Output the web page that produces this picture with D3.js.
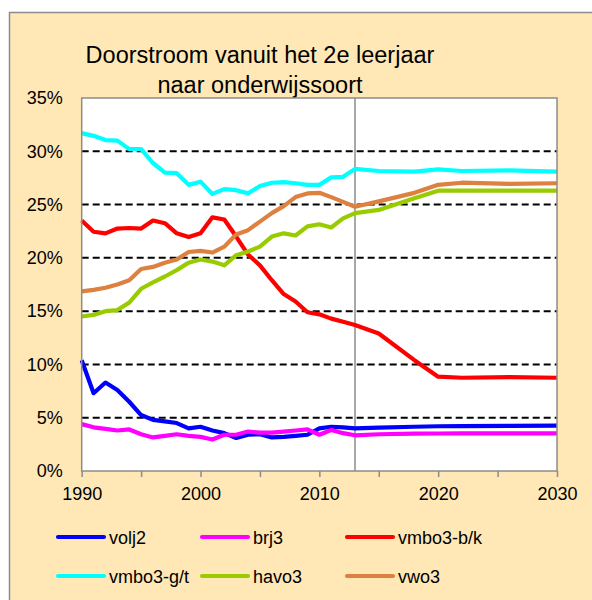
<!DOCTYPE html>
<html>
<head>
<meta charset="utf-8">
<script src="https://cdn.jsdelivr.net/npm/d3@7"></script>
<style>
  body { margin: 0; background: #fff; }
  text { font-family: "Liberation Sans", Arial, sans-serif; fill: #000; }
</style>
</head>
<body>
<svg width="592" height="600"></svg>
<script>
// jaren: 1990-2013 gerealiseerd, daarna prognose
var years = [1990, 1991, 1992, 1993, 1994, 1995, 1996, 1997, 1998, 1999, 2000, 2001,
    2002, 2003, 2004, 2005, 2006, 2007, 2008, 2009, 2010, 2011, 2012, 2013,
    2015, 2018, 2020, 2022, 2026, 2030];

var volj2 = [10.4, 7.3, 8.3, 7.6, 6.5, 5.25, 4.8, 4.65, 4.5, 4.0, 4.15, 3.8,
    3.55, 3.1, 3.4, 3.45, 3.15, 3.2, 3.3, 3.4, 4.0, 4.15, 4.1, 4.0,
    4.07, 4.15, 4.2, 4.22, 4.23, 4.25];
var brj3 = [4.4, 4.1, 3.95, 3.8, 3.9, 3.45, 3.15, 3.3, 3.45, 3.3, 3.2, 2.95,
    3.4, 3.4, 3.7, 3.6, 3.6, 3.7, 3.8, 3.9, 3.4, 3.85, 3.55, 3.35,
    3.45, 3.5, 3.52, 3.53, 3.53, 3.53];
var vmbo3bk = [23.5, 22.45, 22.3, 22.75, 22.8, 22.75, 23.5, 23.25, 22.3, 21.95, 22.3, 23.8,
    23.6, 22.0, 20.3, 19.3, 17.9, 16.6, 15.9, 14.9, 14.7, 14.3, 14.0, 13.7,
    12.9, 10.4, 8.85, 8.75, 8.8, 8.75];
var vmbo3gt = [31.7, 31.45, 31.05, 31.0, 30.2, 30.2, 28.9, 28.0, 27.95, 26.85, 27.15, 26.0,
    26.45, 26.35, 26.05, 26.75, 27.05, 27.1, 27.0, 26.85, 26.85, 27.55, 27.6, 28.35,
    28.15, 28.1, 28.3, 28.15, 28.2, 28.1];
var havo3 = [14.5, 14.65, 15.0, 15.1, 15.8, 17.1, 17.7, 18.25, 18.85, 19.55, 19.85, 19.65,
    19.3, 20.25, 20.6, 21.05, 22.0, 22.3, 22.1, 22.95, 23.15, 22.85, 23.7, 24.2,
    24.5, 25.6, 26.3, 26.3, 26.3, 26.3];
var vwo3 = [16.85, 17.0, 17.2, 17.5, 17.9, 18.95, 19.15, 19.55, 19.85, 20.55, 20.65, 20.5,
    21.05, 22.2, 22.6, 23.4, 24.2, 24.85, 25.7, 26.05, 26.1, 25.7, 25.25, 24.8,
    25.3, 26.1, 26.85, 27.05, 26.95, 27.0];

var seriesNames = ['volj2', 'brj3', 'vmbo3-b/k', 'vmbo3-g/t', 'havo3', 'vwo3'];
var seriesValues = [volj2, brj3, vmbo3bk, vmbo3gt, havo3, vwo3];
var seriesColors = ['#0000ff', '#ff00ff', '#ff0000', '#00ffff', '#99cc00', '#dd8040'];

var yTicks = [0, 5, 10, 15, 20, 25, 30, 35];
var xLabels = [1990, 2000, 2010, 2020, 2030];
var xMinor = [1990, 1995, 2000, 2005, 2010, 2015, 2020, 2025, 2030];
var splitYear = 2013;
var titleLines = ['Doorstroom vanuit het 2e leerjaar', 'naar onderwijssoort'];

(function () {
    var svg = d3.select('svg');

    var plotLeft = 81.7, plotRight = 557, plotTop = 98, plotBottom = 471;

    var x = d3.scaleLinear().domain([1990, 2030]).range([plotLeft, plotRight]);
    var y = d3.scaleLinear().domain([0, 35]).range([plotBottom, plotTop]);

    // achtergrond
    svg.append('rect')
        .attr('x', 9.5).attr('y', 12.5)
        .attr('width', 620).attr('height', 620)
        .attr('fill', '#ffe8b6')
        .attr('stroke', '#8c8c8c')
        .attr('stroke-width', 1.5);

    svg.append('rect')
        .attr('x', plotLeft).attr('y', plotTop)
        .attr('width', plotRight - plotLeft).attr('height', plotBottom - plotTop)
        .attr('fill', '#fff');

    // titel
    svg.selectAll('text.title')
        .data(titleLines)
        .enter().append('text')
        .attr('class', 'title')
        .attr('x', 260)
        .attr('y', function(d, i) { return 63 + i * 30; })
        .attr('text-anchor', 'middle')
        .style('font-size', '23.5px')
        .text(function(d) { return d; });

    // rasterlijnen
    svg.append('g')
        .selectAll('line')
        .data(yTicks.filter(function(t) { return t > 0 && t < 35; }))
        .enter().append('line')
        .attr('x1', plotLeft).attr('x2', plotRight)
        .attr('y1', function(d) { return y(d); })
        .attr('y2', function(d) { return y(d); })
        .attr('stroke', '#000')
        .attr('stroke-width', 2)
        .attr('stroke-dasharray', '7,4');

    // scheiding realisatie / prognose
    svg.append('line')
        .attr('x1', x(splitYear)).attr('x2', x(splitYear))
        .attr('y1', plotTop).attr('y2', plotBottom)
        .attr('stroke', '#8c8c8c')
        .attr('stroke-width', 1.5);

    // assen
    var xAxis = d3.axisBottom(x)
        .tickValues(xMinor)
        .tickSize(6)
        .tickFormat(function(d) { return xLabels.indexOf(d) >= 0 ? d : ''; })
        .tickPadding(10);

    var gx = svg.append('g')
        .attr('transform', 'translate(0,' + plotBottom + ')')
        .call(xAxis);
    gx.select('.domain').remove();
    gx.selectAll('line').attr('stroke', '#8c8c8c').attr('stroke-width', 1.5);
    gx.selectAll('text').style('font-size', '18px').attr('dy', '0.71em');

    var yAxis = d3.axisLeft(y)
        .tickValues(yTicks)
        .tickSize(0)
        .tickPadding(19)
        .tickFormat(function(d) { return d + '%'; });

    var gy = svg.append('g')
        .attr('transform', 'translate(' + plotLeft + ',0)')
        .call(yAxis);
    gy.select('.domain').remove();
    gy.selectAll('text').style('font-size', '18px');

    // lijnen
    var line = d3.line()
        .x(function(d, i) { return x(years[i]); })
        .y(function(d) { return y(d); });

    svg.append('g')
        .selectAll('path')
        .data(seriesValues)
        .enter().append('path')
        .attr('d', line)
        .attr('fill', 'none')
        .attr('stroke', function(d, i) { return seriesColors[i]; })
        .attr('stroke-width', 4.2)
        .attr('stroke-linejoin', 'round');

    // kader plotgebied
    svg.append('rect')
        .attr('x', plotLeft).attr('y', plotTop)
        .attr('width', plotRight - plotLeft).attr('height', plotBottom - plotTop)
        .attr('fill', 'none')
        .attr('stroke', '#8c8c8c')
        .attr('stroke-width', 1.5);

    // legenda
    var legendCols = [58, 202, 347];
    var legendRows = [537, 576];

    var legend = svg.append('g')
        .selectAll('g')
        .data(seriesNames)
        .enter().append('g')
        .attr('transform', function(d, i) {
            return 'translate(' + legendCols[i % 3] + ',' + legendRows[Math.floor(i / 3)] + ')';
        });

    legend.append('line')
        .attr('x1', 0).attr('x2', 46)
        .attr('stroke', function(d, i) { return seriesColors[i]; })
        .attr('stroke-width', 4.2)
        .attr('stroke-linecap', 'round');

    legend.append('text')
        .attr('x', 51)
        .attr('y', 6.5)
        .style('font-size', '18px')
        .text(function(d) { return d; });
})();
</script>
</body>
</html>
